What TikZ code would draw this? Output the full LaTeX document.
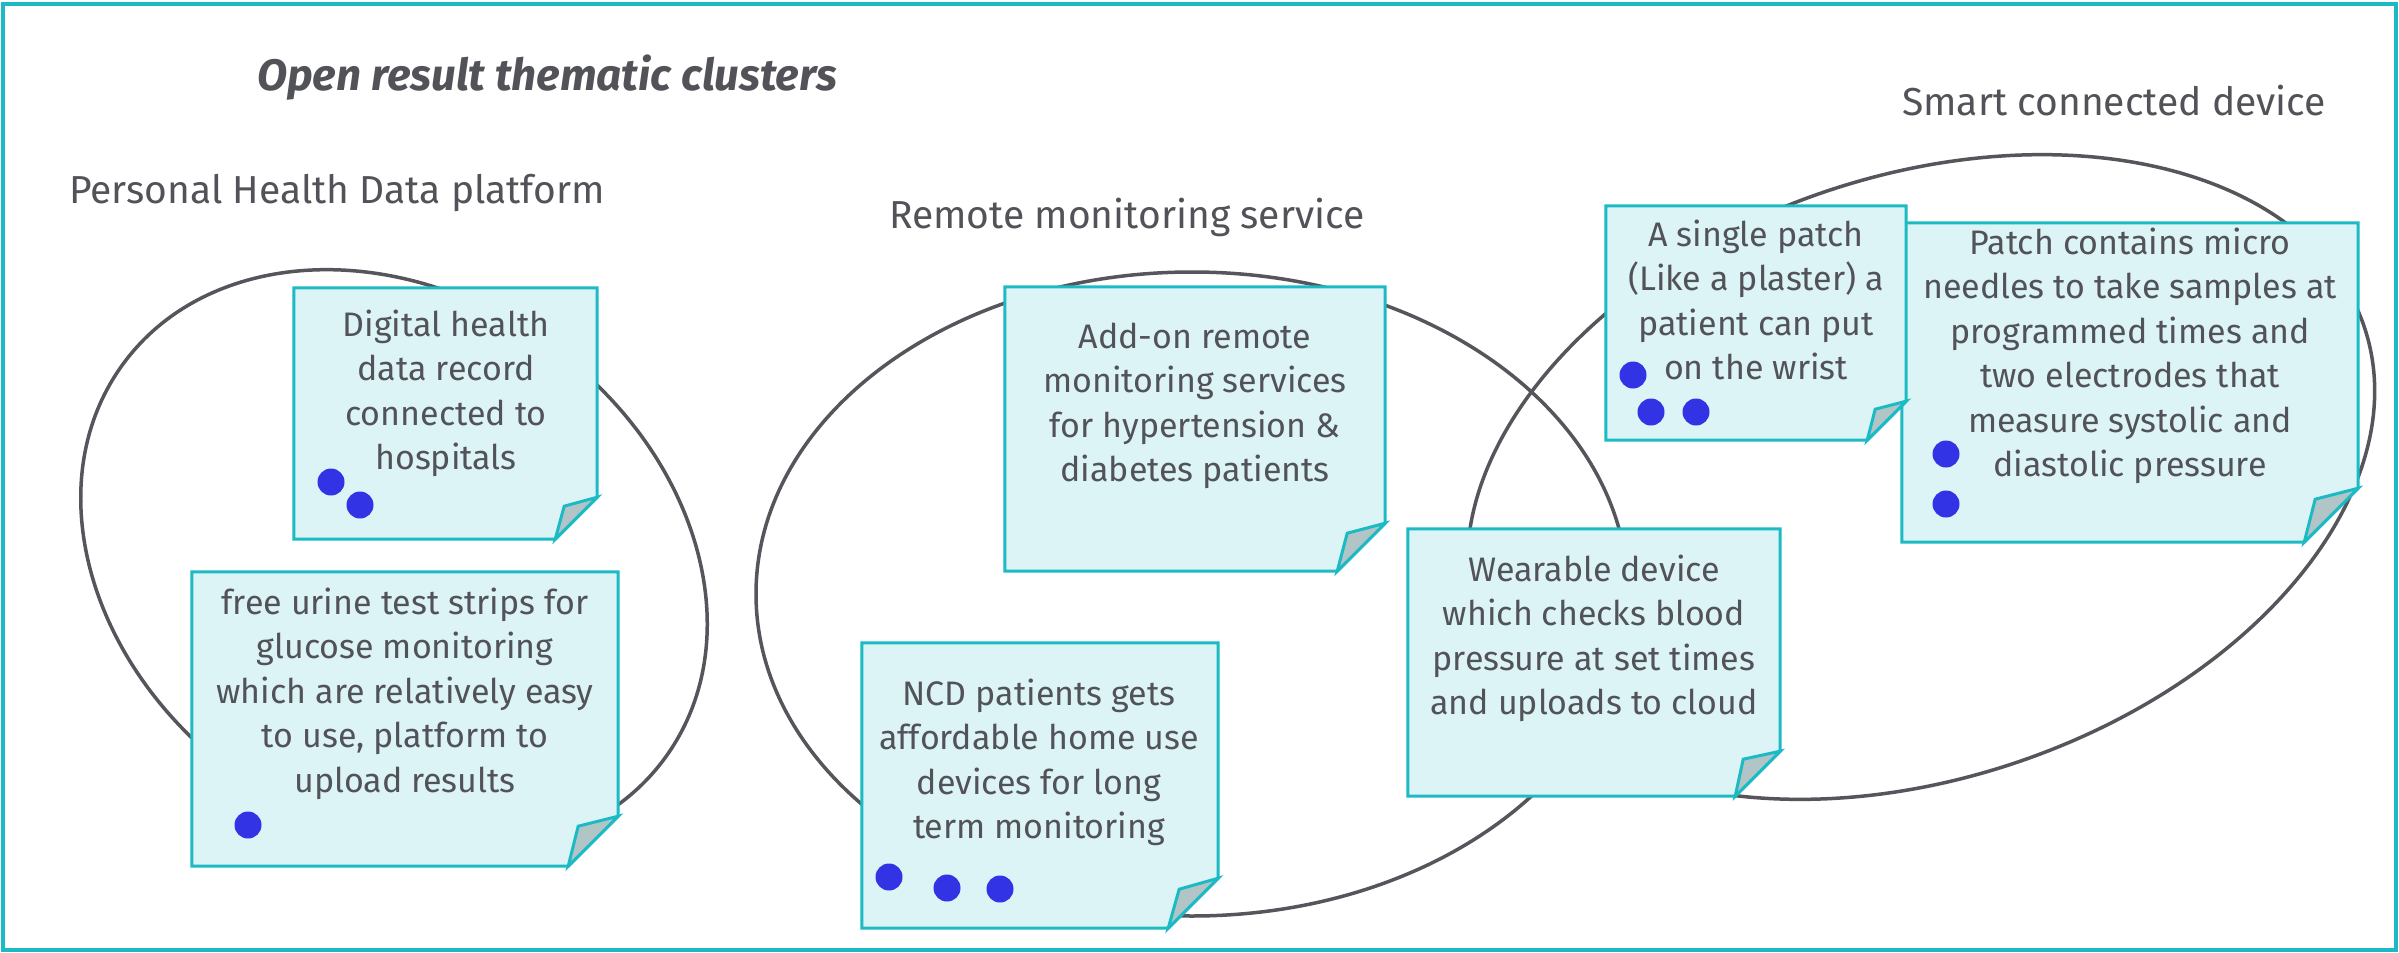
\documentclass[tikz,border=0pt]{standalone}
\usepackage{fontspec}
\setmainfont{Fira Sans}
\usetikzlibrary{fit,shapes.geometric}
\definecolor{tealline}{RGB}{28,186,196}
\definecolor{notebg}{RGB}{220,244,246}
\definecolor{foldbg}{RGB}{177,197,199}
\definecolor{ringgray}{RGB}{85,85,91}
\definecolor{txtgray}{RGB}{82,82,89}
\definecolor{dotblue}{RGB}{51,51,230}
\tikzset{
  ring/.style={draw=ringgray, line width=3.5pt, ellipse, inner sep=0pt, fill=none},
  notebox/.style={inner sep=0pt, draw=none},
  noteline/.style={draw=tealline, line width=3pt, line join=miter},
  notetext/.style={font=\fontsize{34}{44.5}\selectfont, align=center, text=txtgray, inner sep=0pt, anchor=base},
  cluster/.style={font=\fontsize{39}{47}\selectfont, text=txtgray, inner sep=0pt},
  bluedot/.style={circle, fill=dotblue, minimum size=27pt, inner sep=0pt},
}
% name, x1, y1, x2, y2, fold, inner
\newcommand{\stickynote}[7]{%
  \node[notebox, fit={(#2,#3) (#4,#5)}] (#1) {};
  \fill[notebg] (#1.north west) -- (#1.north east) -- ([yshift=#6pt]#1.south east)
     -- ([xshift=-#6pt]#1.south east) -- (#1.south west) -- cycle;
  \draw[noteline] (#1.north west) -- (#1.north east) -- ([yshift=#6pt]#1.south east)
     -- ([xshift=-#6pt]#1.south east) -- (#1.south west) -- cycle;
  \filldraw[noteline, fill=foldbg] ([xshift=-#6pt]#1.south east)
     -- ([xshift=-#7pt, yshift=#7pt]#1.south east) -- ([yshift=#6pt]#1.south east) -- cycle;
}
\begin{document}
\begin{tikzpicture}[x=1pt, y=-1pt]
\useasboundingbox (0,0) rectangle (2399,953);
\fill[white] (0,0) rectangle (2399,953);
\draw[tealline, line width=4pt] (3,4) rectangle (2396,950);

% title and cluster labels
\node[anchor=base west, font=\fontsize{44}{52}\selectfont\bfseries\itshape, text=txtgray, inner sep=0pt] (title) at (257,90) {Open result thematic clusters};
\node[cluster, anchor=base west] (lab1) at (69,203) {Personal Health Data platform};
\node[cluster, anchor=base west] (lab2) at (889,228) {Remote monitoring service};
\node[cluster, anchor=base west] (lab3) at (1902,115) {Smart connected device};

% cluster ellipses
\node[ring, minimum width=670pt, minimum height=532pt, rotate=-35.7] (c1) at (394,561) {};
\node[ring, minimum width=872pt, minimum height=644pt] (c2) at (1192,594) {};
\node[ring, minimum width=936pt, minimum height=602pt, rotate=18.75] (c3) at (1921,477) {};

% notes (text anchored at the baseline of the last line)
\stickynote{nA}{294}{288}{597}{539}{42}{33}
\node[notetext] (tA) at (446,469.5) {Digital health\\data record\\connected to\\hospitals};
\node[bluedot] (dA1) at (331,482) {};
\node[bluedot] (dA2) at (360,505) {};

\stickynote{nB}{192}{572}{618}{866}{50}{40}
\node[notetext] (tB) at (405,792) {free urine test strips for\\glucose monitoring\\which are relatively easy\\to use, platform to\\upload results};
\node[bluedot] (dB1) at (248,825) {};

\stickynote{nC}{1005}{287}{1385}{571}{48}{38}
\node[notetext] (tC) at (1195,481.5) {Add-on remote\\monitoring services\\for hypertension \&\\diabetes patients};

\stickynote{nD}{862}{643}{1218}{928}{50}{39}
\node[notetext] (tD) at (1039,838.5) {NCD patients gets\\affordable home use\\devices for long\\term monitoring};
\node[bluedot] (dD1) at (889,877) {};
\node[bluedot] (dD2) at (947,888) {};
\node[bluedot] (dD3) at (1000,889) {};

\stickynote{nE}{1408}{529}{1780}{796}{45}{37}
\node[notetext] (tE) at (1594,714.5) {Wearable device\\which checks blood\\pressure at set times\\and uploads to cloud};

\stickynote{nG}{1902}{223}{2358}{542}{54}{43}
\node[notetext] (tG) at (2130,476.5) {Patch contains micro\\needles to take samples at\\programmed times and\\two electrodes that\\measure systolic and\\diastolic pressure};
\node[bluedot] (dG1) at (1946,454) {};
\node[bluedot] (dG2) at (1946,504) {};

\stickynote{nF}{1606}{206}{1906}{440}{39}{31}
\node[notetext] (tF) at (1756,379.5) {A single patch\\(Like a plaster) a\\patient can put\\on the wrist};
\node[bluedot] (dF1) at (1633,375) {};
\node[bluedot] (dF2) at (1651,412) {};
\node[bluedot] (dF3) at (1696,412) {};
\end{tikzpicture}
\end{document}
